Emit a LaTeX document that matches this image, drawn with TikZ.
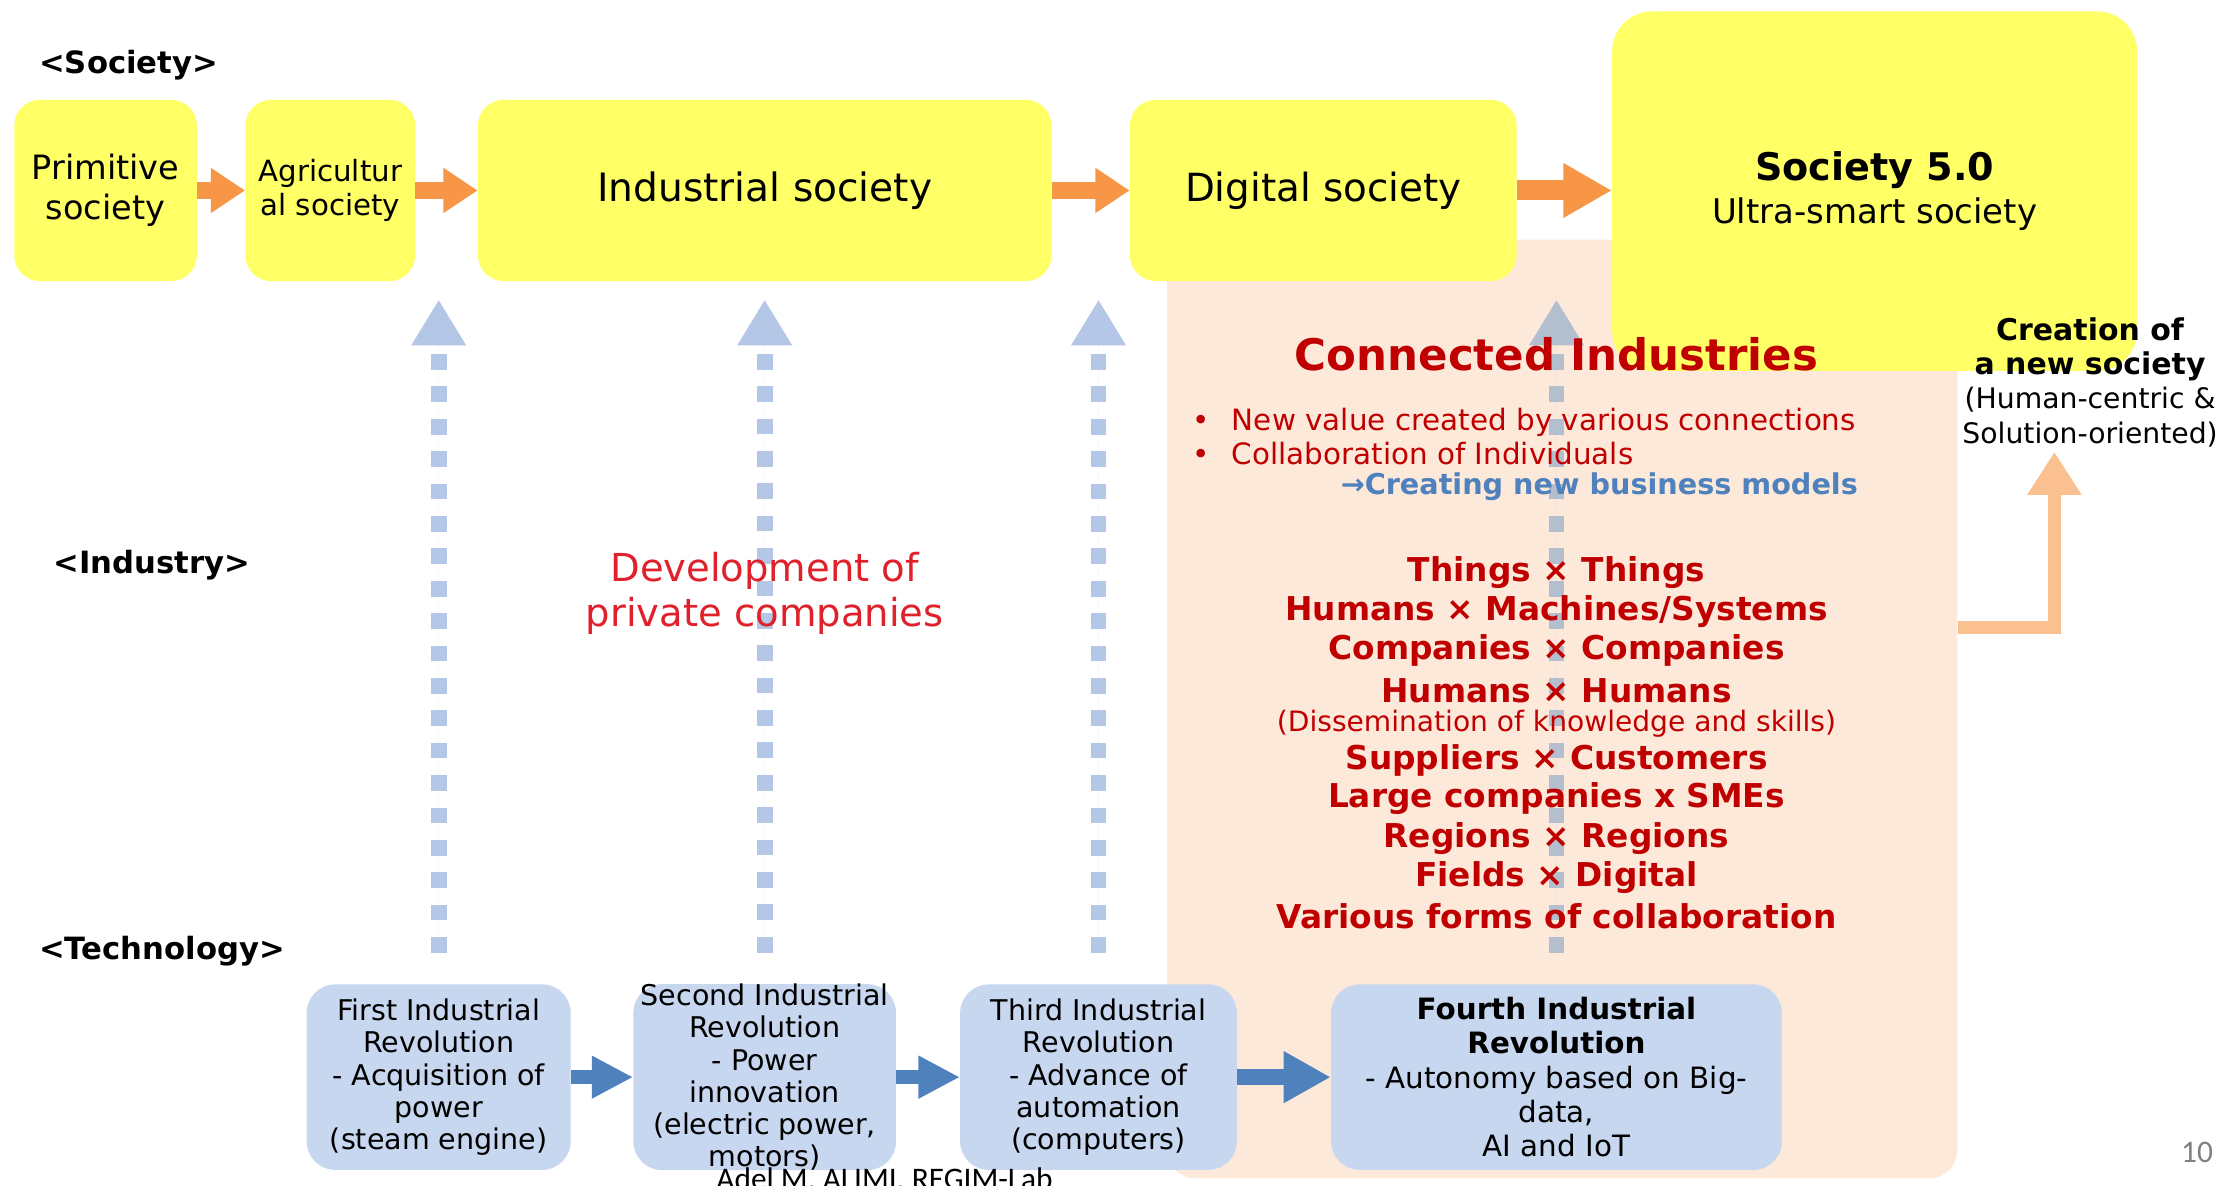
\documentclass[tikz,border=0pt]{standalone}
\usepackage{fontspec}
\setmainfont{DejaVu Sans}
\newfontfamily\footfont{Carlito}
\usepackage{xcolor}
\usetikzlibrary{arrows.meta}

\definecolor{socyellow}{HTML}{FFFF66}
\definecolor{arrorange}{HTML}{F79646}
\definecolor{lightorange}{HTML}{FAC090}
\definecolor{peach}{HTML}{FDE9D9}
\definecolor{techblue}{HTML}{C6D7EF}
\definecolor{arrblue}{HTML}{4F81BD}
\definecolor{dashblue}{HTML}{B4C7E7}
\definecolor{dashgrey}{HTML}{B3BECE}
\definecolor{darkred}{HTML}{C00000}
\definecolor{brightred}{HTML}{E0202A}

\newcommand{\fs}[2]{\fontsize{#1}{#2}\selectfont}

\tikzset{
  socbox/.style={fill=socyellow, rounded corners=18pt, inner sep=0pt, align=center, minimum height=127pt},
  techbox/.style={fill=techblue, rounded corners=20pt, inner sep=0pt, align=center, minimum height=130pt, font=\fs{20}{22.5}},
  catlabel/.style={anchor=west, font=\fs{21.5}{26}\bfseries},
  redline/.style={text=darkred, font=\fs{23}{28}\bfseries},
  socarrow/.style={draw=arrorange, line width=12pt, -{Triangle[length=24pt 0 1, width=30pt 0 1]}},
  techarrow/.style={draw=arrblue, line width=10pt, -{Triangle[length=29pt 0 1, width=28pt 0 1]}},
  dasharrow/.style={draw=dashblue, fill=dashblue, line width=11pt, dash pattern=on 11pt off 11.7pt,
    shorten <=22pt, -{Triangle[length=32pt 0 1, width=36pt 0 1]}},
  creatarrow/.style={draw=lightorange, line width=9pt, -{Triangle[length=30pt 0 1, width=36pt 0 1]}},
}

\begin{document}
\begin{tikzpicture}
    \path[fill=white, use as bounding box] (0pt, 0pt) rectangle (1568pt, -831pt);

    % Background
    \node[fill=peach, rounded corners=20pt, inner sep=0pt, minimum width=554pt, minimum height=658pt] (ci) at (1095pt, -497pt) {};

    % Society row
    \node[socbox, minimum width=128pt, font=\fs{23.5}{28}] (prim) at (74pt, -133.5pt) {Primitive\\society};
    \node[socbox, minimum width=119pt, font=\fs{20.5}{24}] (agri) at (231.5pt, -133.5pt) {Agricultur\\al society};
    \node[socbox, minimum width=402pt, font=\fs{27.4}{32}] (indus) at (536pt, -133.5pt) {Industrial society};
    \node[socbox, minimum width=271pt, font=\fs{27.2}{32}] (digi) at (927.5pt, -133.5pt) {Digital society};
    \node[socbox, minimum width=368pt, minimum height=252pt, rounded corners=28pt, font=\fs{23.8}{30}] (soc) at (1314pt, -134pt)
        {{\fs{26.7}{30}\bfseries Society 5.0}\\Ultra-smart society};

    % Technology row
    \node[techbox, minimum width=185pt] (first) at (307.5pt, -755pt)
        {First Industrial\\Revolution\\- Acquisition of\\power\\(steam engine)};
    \node[techbox, minimum width=184pt] (second) at (536pt, -755pt)
        {Second Industrial\\Revolution\\- Power\\innovation\\(electric power,\\motors)};
    \node[techbox, minimum width=194pt] (third) at (770pt, -755pt)
        {Third Industrial\\Revolution\\- Advance of\\automation\\(computers)};
    \node[techbox, minimum width=316pt, font=\fs{20.6}{24}] (fourth) at (1091pt, -755pt)
        {\textbf{Fourth Industrial}\\\textbf{Revolution}\\- Autonomy based on Big-\\data,\\AI and IoT};

    \coordinate (top) at (0pt, -210pt);
    \coordinate (bend) at (1440pt, -440pt);

    % Lines
    \draw[socarrow] (prim) -- (agri);
    \draw[socarrow] (agri) -- (indus);
    \draw[socarrow] (indus) -- (digi);
    \draw[socarrow, line width=14pt, -{Triangle[length=34pt 0 1, width=36pt 0 1]}] (digi.east) -- (digi.east -| soc.west);

    \draw[techarrow] (first) -- (second);
    \draw[techarrow] (second) -- (third);
    \draw[techarrow, line width=11pt, -{Triangle[length=33pt 0 1, width=34pt 0 1]}] (third) -- (fourth);

    \draw[dasharrow] (first) -- (first |- top);
    \draw[dasharrow] (second) -- (second |- top);
    \draw[dasharrow] (third) -- (third |- top);
    \draw[dasharrow, draw=dashgrey, fill=dashgrey] (fourth) -- (fourth |- top);

    % Labels
    \node[catlabel] (lsoc) at (24pt, -46pt) {<Society>};
    \node[catlabel] (lind) at (34pt, -396pt) {<Industry>};
    \node[catlabel] (ltech) at (24pt, -667pt) {<Technology>};

    \node[text=brightred, align=center, font=\fs{27}{32}] (dev) at (536pt, -416pt) {Development of\\private companies};

    \node[text=darkred, font=\fs{30.5}{40}\bfseries] (cititle) at (1091pt, -248pt) {Connected Industries};
    \node[anchor=west, text=darkred, align=left, font=\fs{20.6}{24}] (bul) at (832pt, -306pt)
        {\makebox[28pt][l]{\textbullet}New value created by various connections\\\makebox[28pt][l]{\textbullet}Collaboration of Individuals};
    \node[text=arrblue, font=\fs{20.1}{24}\bfseries] (biz) at (1121pt, -341pt) {→Creating new business models};

    \node[redline] (r1) at (1091pt, -401pt) {Things × Things};
    \node[redline] (r2) at (1091pt, -429pt) {Humans × Machines/Systems};
    \node[redline] (r3) at (1091pt, -456pt) {Companies × Companies};
    \node[redline] (r4) at (1091pt, -484pt) {Humans × Humans};
    \node[text=darkred, font=\fs{19.7}{24}] (r5) at (1091pt, -507pt) {(Dissemination of knowledge and skills)};
    \node[redline] (r6) at (1091pt, -533pt) {Suppliers × Customers};
    \node[redline] (r7) at (1091pt, -560pt) {Large companies x SMEs};
    \node[redline] (r8) at (1091pt, -588pt) {Regions × Regions};
    \node[redline] (r9) at (1091pt, -615pt) {Fields × Digital};
    \node[redline] (r10) at (1091pt, -642pt) {Various forms of collaboration};

    \node[align=center, font=\fs{19.8}{24}] (newsoc) at (1465pt, -268pt)
        {{\fs{21}{24}\bfseries Creation of}\\{\fs{21}{24}\bfseries a new society}\\(Human-centric \&\\Solution-oriented)};
    \draw[creatarrow] (bend -| ci.east) -- (bend) -- (bend |- newsoc.south);

    \node[anchor=base, font=\footfont\fs{22}{26}] (foot) at (620pt, -834pt) {Adel M. ALIMI, REGIM-Lab};
    \node[text=gray, font=\footfont\fs{22}{26}] (page) at (1540pt, -808pt) {10};

\end{tikzpicture}
\end{document}
